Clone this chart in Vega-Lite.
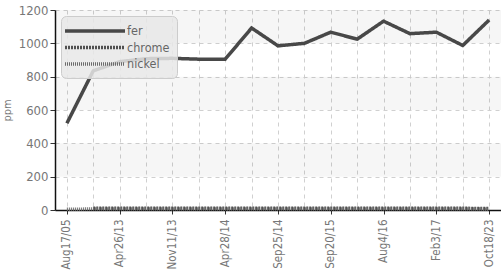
{
  "$schema": "https://vega.github.io/schema/vega-lite/v6.json",
  "width": 501,
  "height": 275,
  "autosize": {"type": "fit", "contains": "padding"},
  "padding": {"left": 1, "top": 4, "right": 0, "bottom": 5},
  "background": "white",
  "config": {
    "font": "DejaVu Sans Condensed",
    "view": {"stroke": null},
    "axisY": {
      "values": [0, 200, 400, 600, 800, 1000, 1200],
      "format": "d",
      "labelOverlap": false,
      "labelFontSize": 13,
      "labelColor": "#777",
      "labelPadding": 2,
      "tickColor": "#333",
      "tickSize": 5,
      "domainColor": "#111",
      "domainWidth": 1.5,
      "grid": true,
      "gridDash": [4, 4],
      "gridColor": "#d0d0d0",
      "titleFontWeight": "normal",
      "titleFontSize": 11,
      "titleColor": "#777",
      "titlePadding": 6
    }
  },
  "datasets": {
    "bands": [{"lo": 200, "hi": 400}, {"lo": 600, "hi": 800}, {"lo": 1000, "hi": 1200}],
    "series": [
      {"date": "Aug17/05", "element": "fer", "ppm": 520},
      {"date": "Jan8/13", "element": "fer", "ppm": 835},
      {"date": "Apr26/13", "element": "fer", "ppm": 890},
      {"date": "Jul15/13", "element": "fer", "ppm": 908},
      {"date": "Nov11/13", "element": "fer", "ppm": 910},
      {"date": "Feb3/14", "element": "fer", "ppm": 905},
      {"date": "Apr28/14", "element": "fer", "ppm": 905},
      {"date": "Jul2/14", "element": "fer", "ppm": 1092},
      {"date": "Sep25/14", "element": "fer", "ppm": 985},
      {"date": "Mar12/15", "element": "fer", "ppm": 1000},
      {"date": "Sep20/15", "element": "fer", "ppm": 1067},
      {"date": "Feb14/16", "element": "fer", "ppm": 1025},
      {"date": "Aug4/16", "element": "fer", "ppm": 1133},
      {"date": "Nov9/16", "element": "fer", "ppm": 1058},
      {"date": "Feb3/17", "element": "fer", "ppm": 1067},
      {"date": "Jun20/17", "element": "fer", "ppm": 987},
      {"date": "Oct18/23", "element": "fer", "ppm": 1140},
      {"date": "Jan8/13", "element": "chrome", "ppm": 10},
      {"date": "Apr26/13", "element": "chrome", "ppm": 11},
      {"date": "Jul15/13", "element": "chrome", "ppm": 11},
      {"date": "Nov11/13", "element": "chrome", "ppm": 11},
      {"date": "Feb3/14", "element": "chrome", "ppm": 10},
      {"date": "Apr28/14", "element": "chrome", "ppm": 10},
      {"date": "Jul2/14", "element": "chrome", "ppm": 11},
      {"date": "Sep25/14", "element": "chrome", "ppm": 10},
      {"date": "Mar12/15", "element": "chrome", "ppm": 11},
      {"date": "Sep20/15", "element": "chrome", "ppm": 11},
      {"date": "Feb14/16", "element": "chrome", "ppm": 10},
      {"date": "Aug4/16", "element": "chrome", "ppm": 11},
      {"date": "Nov9/16", "element": "chrome", "ppm": 10},
      {"date": "Feb3/17", "element": "chrome", "ppm": 10},
      {"date": "Jun20/17", "element": "chrome", "ppm": 10},
      {"date": "Oct18/23", "element": "chrome", "ppm": 9},
      {"date": "Aug17/05", "element": "nickel", "ppm": 4},
      {"date": "Jan8/13", "element": "nickel", "ppm": 6},
      {"date": "Apr26/13", "element": "nickel", "ppm": 6},
      {"date": "Jul15/13", "element": "nickel", "ppm": 6},
      {"date": "Nov11/13", "element": "nickel", "ppm": 6},
      {"date": "Feb3/14", "element": "nickel", "ppm": 6},
      {"date": "Apr28/14", "element": "nickel", "ppm": 6},
      {"date": "Jul2/14", "element": "nickel", "ppm": 6},
      {"date": "Sep25/14", "element": "nickel", "ppm": 6},
      {"date": "Mar12/15", "element": "nickel", "ppm": 6},
      {"date": "Sep20/15", "element": "nickel", "ppm": 6},
      {"date": "Feb14/16", "element": "nickel", "ppm": 6},
      {"date": "Aug4/16", "element": "nickel", "ppm": 6},
      {"date": "Nov9/16", "element": "nickel", "ppm": 6},
      {"date": "Feb3/17", "element": "nickel", "ppm": 6},
      {"date": "Jun20/17", "element": "nickel", "ppm": 6},
      {"date": "Oct18/23", "element": "nickel", "ppm": 5}
    ]
  },
  "layer": [
    {
      "data": {"name": "bands"},
      "mark": {"type": "rect", "color": "#000000", "opacity": 0.035},
      "encoding": {
        "y": {"field": "lo", "type": "quantitative", "title": "ppm", "scale": {"domain": [0, 1200]}},
        "y2": {"field": "hi"}
      }
    },
    {
      "data": {"name": "series"},
      "mark": {"type": "line", "strokeCap": "butt"},
      "encoding": {
        "x": {
          "field": "date",
          "type": "ordinal",
          "sort": null,
          "scale": {"type": "point", "padding": 0.45},
          "axis": {
            "title": null,
            "labelAngle": -90,
            "labelAlign": "right",
            "labelBaseline": "middle",
            "labelFontSize": 11.5,
            "labelColor": "#777",
            "labelPadding": 5,
            "labelOverlap": false,
            "labelExpr": "indexof(['Aug17/05','Apr26/13','Nov11/13','Apr28/14','Sep25/14','Sep20/15','Aug4/16','Feb3/17','Oct18/23'], datum.value) >= 0 ? datum.value : ''",
            "tickOpacity": {"condition": {"test": "indexof(['Aug17/05','Apr26/13','Nov11/13','Apr28/14','Sep25/14','Sep20/15','Aug4/16','Feb3/17','Oct18/23'], datum.value) >= 0", "value": 1}, "value": 0},
            "tickColor": "#333",
            "tickSize": 4,
            "domainColor": "#111",
            "domainWidth": 1.5,
            "grid": true,
            "gridDash": [4, 4],
            "gridColor": "#d0d0d0"
          }
        },
        "y": {
          "field": "ppm",
          "type": "quantitative",
          "title": "ppm",
          "scale": {"domain": [0, 1200]}
        },
        "color": {
          "field": "element",
          "type": "nominal",
          "scale": {"domain": ["fer", "chrome", "nickel"], "range": ["#484848", "#505050", "#6a6a6a"]},
          "legend": {
            "title": null,
            "orient": "top-left",
            "offset": 6,
            "symbolType": "M-5,0H5",
            "symbolSize": 144,
            "symbolOffset": 19,
            "labelFontSize": 12.5,
            "labelColor": "#666",
            "labelOffset": 24,
            "fillColor": "rgba(232,232,232,0.85)",
            "strokeColor": "#cccccc",
            "cornerRadius": 5,
            "padding": 7,
            "rowPadding": 1.5
          }
        },
        "strokeDash": {
          "field": "element",
          "type": "nominal",
          "scale": {"domain": ["fer", "chrome", "nickel"], "range": [[1, 0], [2, 1], [1, 1]]},
          "legend": null
        },
        "strokeWidth": {
          "field": "element",
          "type": "nominal",
          "scale": {"domain": ["fer", "chrome", "nickel"], "range": [3.5, 3.5, 2]},
          "legend": null
        }
      }
    }
  ]
}
